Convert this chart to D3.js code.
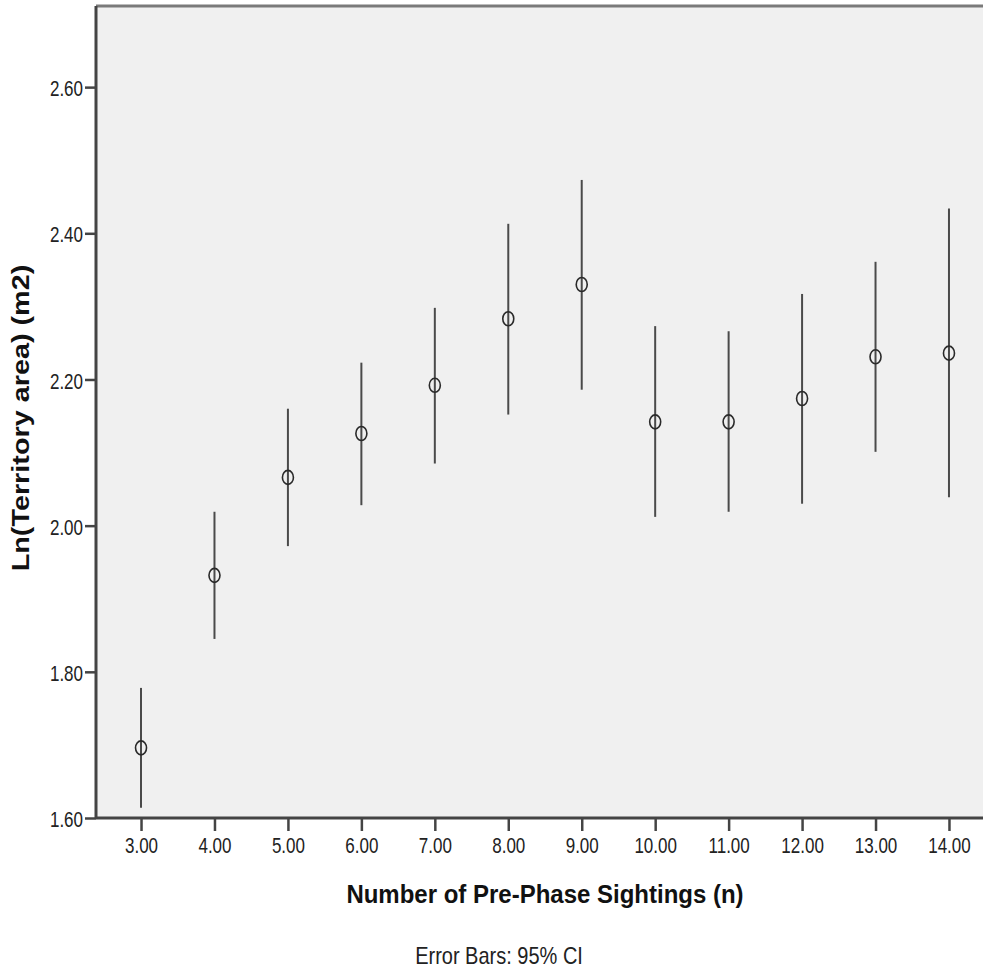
<!DOCTYPE html>
<html>
<head>
<meta charset="utf-8">
<script src="https://cdnjs.cloudflare.com/ajax/libs/d3/7.8.5/d3.min.js"></script>
<style>
  body { margin: 0; background: #fff; }
  svg { display: block; font-family: "Liberation Sans", Arial, sans-serif; }
</style>
</head>
<body>
<div id="chart"></div>
<script>
'use strict';

// data (means and 95% CI bounds)
const sightings = [3, 4, 5, 6, 7, 8, 9, 10, 11, 12, 13, 14];
const means = [1.696, 1.932, 2.066, 2.126, 2.192, 2.283, 2.330, 2.142, 2.142, 2.174, 2.231, 2.236];
const lower = [1.614, 1.845, 1.972, 2.028, 2.085, 2.152, 2.186, 2.012, 2.019, 2.030, 2.101, 2.039];
const upper = [1.778, 2.019, 2.160, 2.223, 2.298, 2.413, 2.473, 2.273, 2.266, 2.317, 2.361, 2.434];
const yTicks = [1.6, 1.8, 2.0, 2.2, 2.4, 2.6];

const width = 983, height = 972;
const plot = { left: 96, right: 994, top: 6, bottom: 818 };

const svg = d3.select('#chart')
    .append('svg')
    .attr('width', width)
    .attr('height', height);

const x = d3.scalePoint()
    .domain(sightings)
    .range([plot.left, plot.right])
    .padding(0.613);

const y = d3.scaleLinear()
    .domain([1.6, 2.711])
    .range([plot.bottom, plot.top]);

// plot background
svg.append('rect')
    .attr('x', plot.left)
    .attr('y', plot.top)
    .attr('width', plot.right - plot.left)
    .attr('height', plot.bottom - plot.top)
    .attr('fill', '#f0f0f0');

// top frame line
svg.append('line')
    .attr('x1', plot.left).attr('x2', plot.right)
    .attr('y1', plot.top).attr('y2', plot.top)
    .attr('stroke', '#7a7a7a')
    .attr('stroke-width', 3);

const data = sightings.map((s, i) => ({ s, m: means[i], lo: lower[i], hi: upper[i] }));

// error bars
svg.append('g').selectAll('line')
    .data(data)
    .join('line')
    .attr('x1', d => x(d.s)).attr('x2', d => x(d.s))
    .attr('y1', d => y(d.lo)).attr('y2', d => y(d.hi))
    .attr('stroke', '#4a4a4a')
    .attr('stroke-width', 2);

// mean markers
svg.append('g').selectAll('ellipse')
    .data(data)
    .join('ellipse')
    .attr('cx', d => x(d.s))
    .attr('cy', d => y(d.m))
    .attr('rx', 5.5)
    .attr('ry', 7)
    .attr('fill', 'none')
    .attr('stroke', '#2a2a2a')
    .attr('stroke-width', 1.6);

// axes
const yAxis = svg.append('g')
    .attr('transform', `translate(${plot.left},0)`)
    .call(d3.axisLeft(y).tickValues(yTicks).tickFormat(d3.format('.2f')).tickSize(11).tickPadding(2));

const xAxis = svg.append('g')
    .attr('transform', `translate(0,${plot.bottom})`)
    .call(d3.axisBottom(x).tickFormat(d => d.toFixed(2)).tickSize(13).tickPadding(8));

[yAxis, xAxis].forEach(g => {
    g.select('.domain').attr('stroke', '#444').attr('stroke-width', 3);
    g.selectAll('.tick line').attr('stroke', '#444').attr('stroke-width', 2.5);
    g.selectAll('.tick text')
        .attr('fill', '#222')
        .style('font-size', '17px');
});

yAxis.select('.domain').attr('d', `M0,${plot.top}V${plot.bottom}`);
xAxis.select('.domain').attr('d', `M${plot.left},0H${plot.right}`);

yAxis.selectAll('.tick text')
    .attr('dy', null)
    .attr('dominant-baseline', 'middle')
    .attr('transform', 'translate(0,3) scale(1,1.25)')
    .attr('y', 0);

xAxis.selectAll('.tick text')
    .attr('transform', 'translate(0,29) scale(1,1.25)')
    .attr('y', 0)
    .attr('dy', null)
    .attr('dominant-baseline', 'middle');

// titles
svg.append('text')
    .attr('transform', 'translate(545,903) scale(1,1.1)')
    .attr('text-anchor', 'middle')
    .style('font-size', '24px')
    .style('font-weight', 'bold')
    .attr('fill', '#111')
    .text('Number of Pre-Phase Sightings (n)');

svg.append('text')
    .attr('transform', 'translate(29,418) rotate(-90) scale(1.2,1)')
    .attr('text-anchor', 'middle')
    .style('font-size', '24px')
    .style('font-weight', 'bold')
    .attr('fill', '#111')
    .text('Ln(Territory area) (m2)');

svg.append('text')
    .attr('transform', 'translate(499,964) scale(1,1.2)')
    .attr('text-anchor', 'middle')
    .style('font-size', '20px')
    .attr('fill', '#222')
    .text('Error Bars: 95% CI');
</script>
</body>
</html>
